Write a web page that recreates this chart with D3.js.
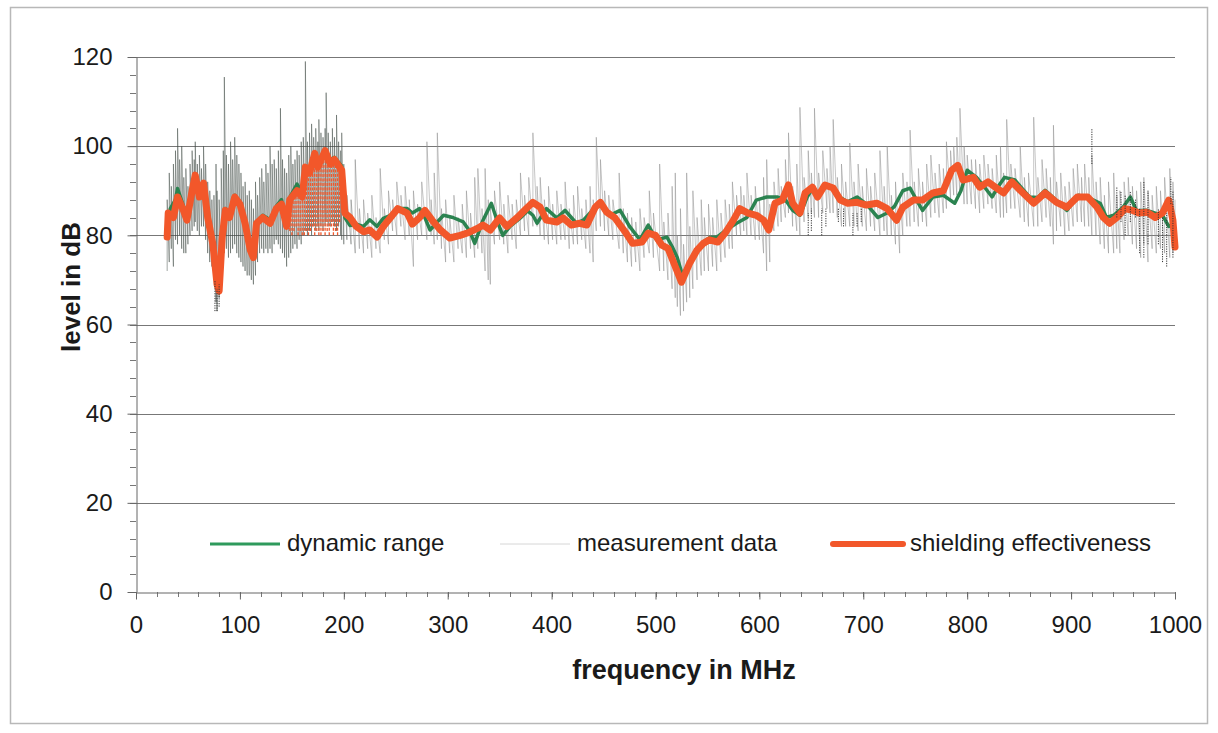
<!DOCTYPE html>
<html>
<head>
<meta charset="utf-8">
<script src="https://cdn.jsdelivr.net/npm/d3@7"></script>
<style>
  body { margin: 0; background: #fff; }
  text { font-family: "Liberation Sans", Arial, sans-serif; fill: #1a1a1a; }
</style>
</head>
<body>
<svg class="svg"></svg>
<script>
// shielding effectiveness [MHz, dB]
const shielding = [
  [30,79.6],[31,85],[36,84],[40,88.6],[45,86],[49,83.4],[54,90],[57,93.5],[61,88.6],[65,91.7],
  [69,84],[74,78],[78,69],[80,67.5],[83,79.6],[86,85.6],[90,84],[95,88.6],[100,87],[105,82.7],
  [110,76.7],[113,75],[116,82.7],[122,84],[129,82.7],[135,86],[140,87],[145,82],[148,88],[155,90],
  [160,88.6],[163,95.3],[167,94],[172,98.4],[175,95.3],[182,99],[187,96],[191,97],[198,94.6],[201,85],
  [206,84],[212,82],[219,80.8],[225,81.2],[232,79.6],[238,82],[245,84],[252,86],[261,85],[266,82.5],
  [273,84],[278,85.6],[285,83.4],[293,81.2],[302,79.4],[312,80],[321,80.7],[329,81.6],[334,82.3],[341,81.2],
  [350,83.9],[357,82],[367,84],[374,85.6],[382,87.4],[389,86.3],[395,83.4],[405,83],[411,83.9],[419,82.3],
  [427,82.7],[434,82.3],[442,86.3],[447,87.4],[453,85.2],[461,83.9],[471,80.7],[478,78.2],[487,78.5],[493,80.5],
  [500,80],[506,77.8],[512,77.1],[519,73],[525,69.5],[533,73.8],[540,76.7],[546,78.2],[552,79],[560,78.5],
  [567,80.5],[575,83.4],[581,86],[589,85],[597,84.5],[604,83.4],[609,81.2],[615,87.2],[622,87.9],[628,91.3],
  [632,87.2],[639,85],[644,89.5],[651,90.8],[656,88.6],[663,91.3],[671,90.6],[678,87.9],[685,87.2],[694,87.4],
  [703,86.8],[713,87.2],[723,86],[732,83.4],[738,86.3],[748,87.9],[757,87.9],[767,89.5],[777,90],[785,94.6],
  [791,95.7],[796,92.4],[806,93],[812,90.8],[820,92],[827,90.8],[835,89.5],[843,92],[851,90.1],[864,87.2],
  [875,89.5],[886,87.4],[896,86.3],[906,88.6],[916,88.6],[925,86.3],[931,84],[937,82.7],[944,84],[952,86],
  [959,85.6],[965,85],[973,85.2],[981,84],[988,85],[994,87.9],[998,83.4],[1000,77.4]
];

// dynamic range [MHz, dB]
const dynamicRange = [
  [30,80.5],[33,86],[38,88],[40,90.5],[45,87],[49,84.5],[54,90.5],[57,93],[61,89.5],[65,92],
  [69,85],[74,78.5],[78,70],[80,68.5],[83,80],[86,86],[90,85],[95,89],[100,87.5],[105,83.5],
  [110,77.5],[113,76],[116,83],[122,84.5],[129,83.5],[135,86.5],[140,88],[145,83],[148,88.5],[155,91.5],
  [160,89.5],[163,95],[167,95],[172,97.5],[175,96],[182,98],[187,97],[191,97.5],[198,95.5],[201,84],
  [206,82.2],[212,82.5],[219,82],[225,83.5],[232,82],[238,83.8],[245,84.5],[252,86],[261,86],[266,85],
  [273,86],[278,84],[283,81.2],[290,83],[296,84.5],[305,84],[315,83],[321,81],[326,78.2],[334,83.4],
  [342,87.2],[348,83],[353,80],[360,82],[370,83.9],[377,85.5],[382,84.5],[386,82.7],[395,86],[405,83.9],
  [413,85.6],[419,84],[424,82.7],[431,83.5],[437,85],[442,86.5],[447,87.2],[456,84.5],[466,85.6],[475,82],
  [485,79],[493,82.3],[501,79],[511,79.6],[516,77.5],[521,75],[526,71],[533,74],[540,77],[546,78.5],
  [552,79.5],[559,79.6],[567,81],[578,82.7],[588,84],[597,87.9],[607,88.6],[617,88.6],[625,88],[632,85.6],
  [639,84.5],[646,88.6],[651,90.5],[656,89],[663,91],[671,90.5],[678,88.5],[685,87.5],[694,88.6],[703,87],
  [714,84],[723,85],[730,86.5],[738,90],[745,90.6],[751,88],[757,85.6],[767,88.6],[777,89],[783,88],
  [788,87.2],[794,90],[800,94.6],[809,93],[816,91],[824,88.6],[830,91],[836,93],[846,92.4],[853,90.5],
  [860,88.6],[868,88.5],[875,90.1],[885,88],[896,85.6],[907,89],[918,88.3],[928,87.2],[934,84],[941,84.5],
  [950,86.3],[957,88.6],[963,85.5],[973,85.6],[981,85],[988,84.5],[994,82],[1000,82.7]
];

// measurement data, as [MHz, low dB, high dB] of each swing
const measurement = [
  [30,72,88],[32,74,94],[34,77,91],[36,73,96],[38,79,99],[40,78,104],[42,80,97],[44,77,100],[46,76,93],[48,76,95],
  [50,78,91],[52,80,96],[54,81,99],[56,82,97],[57,83,101],[59,81,96],[61,80,98],[63,82,95],[65,82,100],[67,79,96],
  [69,76,92],[71,74,90],[73,73,88],[75,70,89],[77,65,96],[78,63,90],[80,66,88],[82,70,95],[84,74,99],[85,76,115.5],
  [87,77,98],[89,75,96],[91,76,101],[93,77,97],[95,78,102],[97,76,98],[99,75,96],[101,74,94],[103,73,91],[105,72,92],
  [107,71,89],[109,71,90],[111,70,88],[113,69,86],[115,71,92],[117,74,89],[119,76,93],[121,77,95],[123,76,92],[125,77,96],
  [127,76,94],[129,77,100],[131,76,96],[133,78,97],[135,79,95],[137,78,99],[139,77,108.5],[141,76,97],[143,75,95],[145,73,94],
  [147,75,98],[149,76,100],[151,77,96],[153,78,97],[155,77,99],[157,79,98],[159,78,101],[161,80,102],[163,81,119],[165,80,101],
  [167,81,103],[169,80,105],[171,82,102],[173,81,104],[175,82,101],[176,81,106],[178,82,103],[180,81,102],[182,82,104],[183,83,112],
  [185,82,103],[187,82,101],[189,83,104],[191,82,102],[193,81,107],[195,82,101],[197,80,99],[198,79,103],[200,78,96],
  [203,79,89],[207,78,88],[211,76,97],[215,77,86],[219,76,88],[223,77,85],[227,75,89],[231,77,84],[235,76,95],[239,79,86],
  [243,78,90],[247,81,88],[251,80,92],[255,82,89],[259,79,91],[263,80,88],[267,73,90],[271,79,87],[275,80,92],[280,79,101],
  [284,80,88],[287,78,94],[290,79,103],[294,77,86],[298,74,88],[302,76,84],[306,74,89],[310,77,84],[314,76,87],[318,75,90],
  [322,77,85],[326,75,93],[329,77,95],[333,76,86],[336,72,95],[339,70,88],[341,69,86],[345,78,90],[350,79,92],[354,78,87],
  [358,76,89],[362,79,87],[366,77,88],[370,80,94],[374,81,89],[378,80,93],[382,82,103],[386,82,91],[389,80,93],[393,79,88],
  [397,78,91],[401,79,87],[405,78,90],[409,79,87],[413,79,92],[417,77,86],[421,78,89],[425,78,91],[429,79,86],[433,77,88],
  [437,76,91],[440,74,88],[443,81,102],[447,82,97],[451,81,90],[455,80,89],[459,79,88],[465,77,94],[469,76,86],[473,74,85],
  [477,73,84],[481,74,83],[485,72,86],[489,75,84],[494,76,90],[498,75,85],[504,72,96],[508,72,83],[512,70,85],[516,68,91],
  [519,66,94],[521,64,80],[524,62,86],[527,63,78],[530,65,94],[533,66,82],[536,68,90],[540,70,84],[544,71,88],[547,72,84],
  [551,72,87],[555,73,84],[559,72,88],[563,74,85],[567,75,88],[571,77,87],[574,77,92],[578,80,89],[582,80,91],[585,81,89],
  [588,80,94],[592,80,89],[596,79,91],[600,79,88],[604,76,93],[607,72,97],[610,74,87],[614,81,92],[618,82,95],[621,83,91],
  [625,84,97],[628,85,103],[632,82,91],[636,81,96],[639,80,108.7],[643,83,93],[647,84,99],[650,85,94],[653,84,108.5],[657,84,94],
  [661,85,99],[665,86,95],[668,85,100],[671,85,106],[675,84,93],[679,82,96],[683,82,92],[687,82,100.7],[691,82,92],[695,81,96],
  [699,82,91],[703,81,95],[707,82,91],[711,81,94],[716,80,99],[720,81,91],[723,80,100],[727,80,89],[731,78,92],[735,76,89],
  [738,80,94],[742,82,92],[745,82,103.6],[749,83,92],[753,82,95],[757,83,92],[761,82,96],[765,84,98],[769,85,94],[773,84,96],
  [777,85,95],[780,86,101],[784,88,99],[787,89,100],[790,89,102],[793,89,108.5],[797,87,100],[800,87,98],[804,87,97],[808,86,97],
  [812,85,96],[816,86,98],[820,87,96],[824,86,95],[828,85,98],[832,84,100],[835,84,94],[838,85,106],[842,86,96],[846,86,95],
  [851,84,100],[855,83,93],[859,82,94],[864,82,106.5],[868,82,93],[872,83,97],[876,84,95],[880,82,93],[883,78,104.7],[886,81,92],
  [890,82,94],[894,80,91],[898,81,92],[902,82,95],[906,83,96],[910,83,93],[913,82,96],[917,82,93],[920,80,98],[924,80,92],
  [928,78,93],[932,77,89],[936,76,92],[941,76,94],[944,77,89],[947,76,90],[951,79,92],[955,80,93],[959,78,91],[963,77,90],
  [967,75,92],[970,78,93],[974,74,90],[978,77,89],[982,76,91],[986,77,90],[990,76,93],[995,75,95],[998,76,92],[1000,77,88]
];

// dark dotted swings of the dynamic range trace [MHz, low, high]
const rangeSwings = [
  [76,63,70],[78,63,68],[80,64,69],
  [647,80,85],[650,81,86],[660,80,86],[664,82,86],[676,83,86],[681,82,86],[690,80,85],[694,82,85],[698,83,86],
  [920,96,104],[944,84,91],[948,83,90],[952,80,89],[957,83,90],[962,84,88],[966,76,86],[970,75,92],[974,78,90],
  [984,78,86],[988,74,84],[992,73,85],[996,87,93],[998,75,90]
];

// thin swings of the shielding trace [MHz, low, high]
const shieldSwings = [
  [146,82,86],[148,81,88],[150,80,89],[152,81,89],[154,82,90],[156,80,89],[158,81,88],[160,80,89],[162,80,93],[164,81,95],
  [166,80,94],[168,81,95],[170,82,97],[172,80,98],[174,81,96],[176,80,96],[178,80,97],[180,81,98],[182,80,99],[184,81,98],
  [186,80,96],[188,82,96],[190,80,97],[192,81,97],[194,80,96],[196,83,95]
];

const xTicks = [0, 100, 200, 300, 400, 500, 600, 700, 800, 900, 1000];
const yTicks = [0, 20, 40, 60, 80, 100, 120];

const legendItems = [
  { name: 'dynamic range', color: '#2e9a5c', width: 3, x: 210 },
  { name: 'measurement data', color: '#d6d6d6', width: 1, x: 500 },
  { name: 'shielding effectiveness', color: '#f2572a', width: 6, x: 833 }
];

const width = 1218;
const height = 733;
const margin = { left: 136, right: 43, top: 57, bottom: 141 };

const x = d3.scaleLinear().domain([0, 1000]).range([margin.left, width - margin.right]);
const y = d3.scaleLinear().domain([0, 120]).range([height - margin.bottom, margin.top]);

const svg = d3.select('.svg').attr('width', width).attr('height', height);

// the dense low band of the trace reads darker in the original
const grad = svg.append('defs').append('linearGradient')
  .attr('id', 'meas-grad')
  .attr('gradientUnits', 'userSpaceOnUse')
  .attr('x1', x(0)).attr('x2', x(1000)).attr('y1', 0).attr('y2', 0);
grad.append('stop').attr('offset', 0.195).attr('stop-color', '#3f4a44');
grad.append('stop').attr('offset', 0.215).attr('stop-color', '#8a8a8a');

// outer frame
svg.append('rect')
  .attr('x', 10.5).attr('y', 7.5)
  .attr('width', 1197).attr('height', 716)
  .attr('fill', 'none').attr('stroke', '#b8b8b8').attr('stroke-width', 1.5);

// grid
svg.append('g')
  .selectAll('line')
  .data(yTicks.filter(d => d > 0))
  .join('line')
  .attr('x1', x(0)).attr('x2', x(1000))
  .attr('y1', d => Math.round(y(d)) + 0.5).attr('y2', d => Math.round(y(d)) + 0.5)
  .attr('stroke', '#777').attr('stroke-width', 1);

// minor ticks
svg.append('g')
  .selectAll('line')
  .data(d3.range(0, 121, 4))
  .join('line')
  .attr('x1', x(0) - 6).attr('x2', x(0))
  .attr('y1', d => Math.round(y(d)) + 0.5).attr('y2', d => Math.round(y(d)) + 0.5)
  .attr('stroke', '#777');

svg.append('g')
  .selectAll('line')
  .data(d3.range(0, 1001, 20))
  .join('line')
  .attr('x1', d => Math.round(x(d)) + 0.5).attr('x2', d => Math.round(x(d)) + 0.5)
  .attr('y1', y(0)).attr('y2', y(0) + 5)
  .attr('stroke', '#777');

const yAxis = svg.append('g')
  .attr('transform', `translate(${x(0) + 0.5},0)`)
  .call(d3.axisLeft(y).tickValues(yTicks).tickSize(9).tickPadding(15).tickSizeOuter(0));

const xAxis = svg.append('g')
  .attr('transform', `translate(0,${Math.round(y(0)) + 0.5})`)
  .call(d3.axisBottom(x).tickValues(xTicks).tickFormat(d3.format('d'))
    .tickSize(7).tickPadding(16).tickSizeOuter(0));

[yAxis, xAxis].forEach(a => {
  a.select('.domain').attr('stroke', '#666');
  a.selectAll('.tick line').attr('stroke', '#666');
  a.selectAll('.tick text')
    .attr('fill', '#1a1a1a')
    .style('font-size', '24px')
    .style('font-family', '"Liberation Sans", Arial, sans-serif');
});

// measurement data
const measPts = [];
measurement.forEach(d => {
  measPts.push([d[0], d[1]]);
  measPts.push([d[0], d[2]]);
});

const line = d3.line().x(d => x(d[0])).y(d => y(d[1]));

svg.append('path')
  .attr('d', line(measPts))
  .attr('fill', 'none')
  .attr('stroke', 'url(#meas-grad)')
  .attr('stroke-opacity', 0.55)
  .attr('stroke-width', 0.9);

// dynamic range
svg.append('path')
  .attr('d', line(dynamicRange))
  .attr('fill', 'none')
  .attr('stroke', '#2b8350')
  .attr('stroke-width', 3.5)
  .attr('stroke-linejoin', 'round');

svg.append('g')
  .selectAll('line')
  .data(shieldSwings)
  .join('line')
  .attr('x1', d => x(d[0])).attr('x2', d => x(d[0]))
  .attr('y1', d => y(d[1])).attr('y2', d => y(d[2]))
  .attr('stroke', '#f2572a')
  .attr('stroke-width', 1.3)
  .attr('stroke-dasharray', '3,1.5');

// shielding effectiveness
svg.append('path')
  .attr('d', line(shielding))
  .attr('fill', 'none')
  .attr('stroke', '#f2572a')
  .attr('stroke-width', 7)
  .attr('stroke-linejoin', 'round')
  .attr('stroke-linecap', 'round');

svg.append('g')
  .selectAll('line')
  .data(rangeSwings)
  .join('line')
  .attr('x1', d => x(d[0])).attr('x2', d => x(d[0]))
  .attr('y1', d => y(d[1])).attr('y2', d => y(d[2]))
  .attr('stroke', '#333')
  .attr('stroke-width', 1)
  .attr('stroke-dasharray', '1.2,1.2');

// legend
const legend = svg.append('g').selectAll('g').data(legendItems).join('g')
  .attr('transform', d => `translate(${d.x},544)`);

legend.append('line')
  .attr('x1', 0).attr('x2', 70)
  .attr('stroke', d => d.color)
  .attr('stroke-width', d => d.width)
  .attr('stroke-linecap', d => d.width > 4 ? 'round' : 'butt');

legend.append('text')
  .attr('x', 77)
  .attr('y', 7)
  .style('font-size', '24px')
  .text(d => d.name);

// axis titles
svg.append('text')
  .attr('x', 684)
  .attr('y', 679)
  .attr('text-anchor', 'middle')
  .style('font-size', '27px')
  .style('font-weight', 'bold')
  .text('frequency in MHz');

svg.append('text')
  .attr('transform', 'translate(80,287) rotate(-90)')
  .attr('text-anchor', 'middle')
  .style('font-size', '26px')
  .style('font-weight', 'bold')
  .text('level in dB');
</script>
</body>
</html>
